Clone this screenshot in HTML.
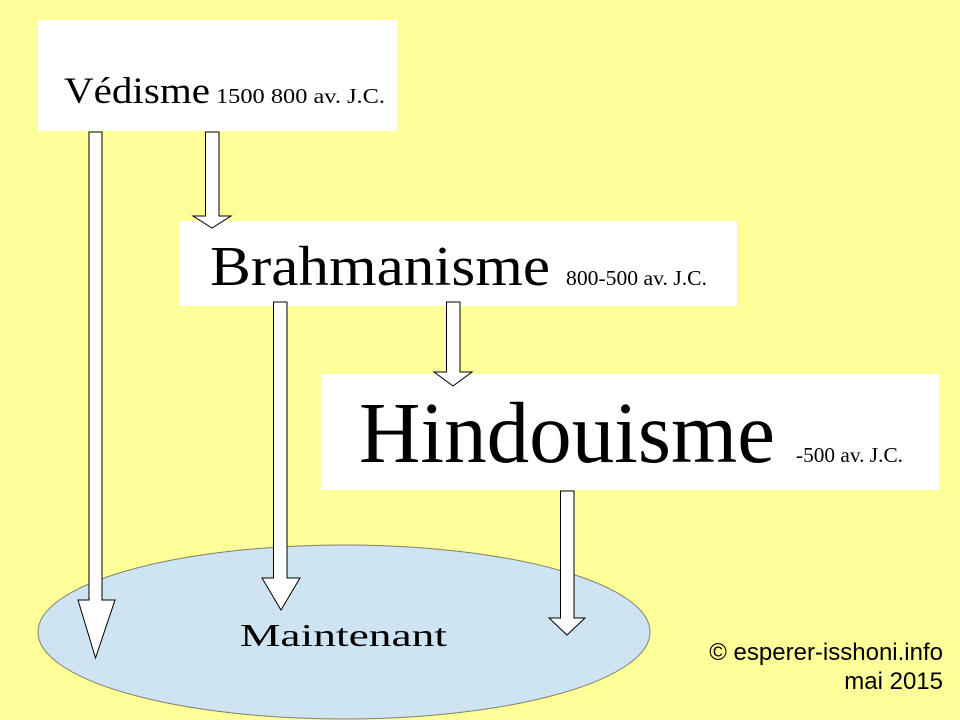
<!DOCTYPE html>
<html><head><meta charset="utf-8"><style>
html,body{margin:0;padding:0;background:#ffff99;}
svg{display:block;}
</style></head><body>
<svg width="960" height="720" viewBox="0 0 960 720" xmlns="http://www.w3.org/2000/svg">
<rect width="960" height="720" fill="#ffff99"/>
<ellipse cx="344" cy="632" rx="306" ry="87" fill="#cfe4f2" stroke="#808070" stroke-width="1"/>
<rect x="38" y="20" width="359" height="111" fill="#fff"/>
<rect x="179" y="221" width="558" height="85" fill="#fff"/>
<rect x="321" y="374" width="618" height="116" fill="#fff"/>
<g fill="#fff" stroke="#000" stroke-width="1">
<polygon points="89,132 102,132 102,600 115,600 95.5,658 78,600 89,600"/>
<polygon points="205.5,132 219,132 219,216 231,216 212,228 193,216 205.5,216"/>
<polygon points="273.5,302 287,302 287,578 300,578 281,610 262,578 273.5,578"/>
<polygon points="446.5,302 460,302 460,372 472,372 453,386 434,372 446.5,372"/>
<polygon points="560.5,491 574,491 574,618 585,618 567,635 549,618 560.5,618"/>
</g>
<g font-family="'Liberation Serif', serif" fill="#000">
<text x="64" y="103" font-size="37" textLength="146" lengthAdjust="spacingAndGlyphs">Védisme</text>
<text x="216" y="103" font-size="21" textLength="169" lengthAdjust="spacingAndGlyphs">1500 800 av. J.C.</text>
<text x="210" y="285" font-size="56" textLength="340" lengthAdjust="spacingAndGlyphs">Brahmanisme</text>
<text x="566" y="285" font-size="21" textLength="141" lengthAdjust="spacingAndGlyphs">800-500 av. J.C.</text>
<text x="359" y="462" font-size="87" textLength="416" lengthAdjust="spacingAndGlyphs">Hindouisme</text>
<text x="796" y="462" font-size="21" textLength="107" lengthAdjust="spacingAndGlyphs">-500 av. J.C.</text>
<text x="240" y="646" font-size="32" textLength="207" lengthAdjust="spacingAndGlyphs">Maintenant</text>
</g>
<g font-family="'Liberation Sans', sans-serif" font-size="24" fill="#000" text-anchor="end">
<text x="943" y="660">© esperer-isshoni.info</text>
<text x="943" y="689">mai 2015</text>
</g>
</svg>
</body></html>
